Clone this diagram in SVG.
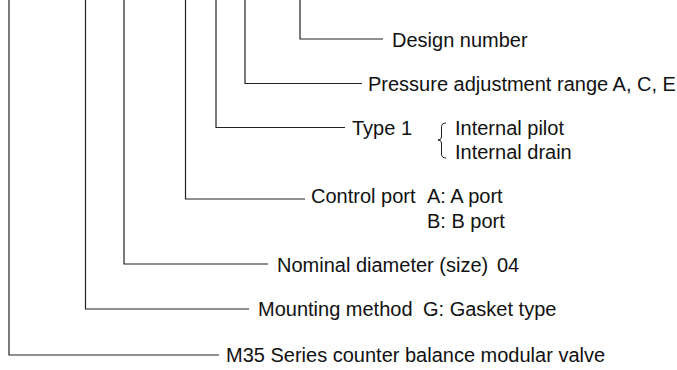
<svg xmlns="http://www.w3.org/2000/svg" width="677" height="370" viewBox="0 0 677 370">
<style>
.ln{fill:none;stroke:#222;stroke-width:1.2}
.br{fill:none;stroke:#222;stroke-width:1}
.t{font-family:"Liberation Sans",Arial,sans-serif;font-size:20px;fill:#111}
</style>
<rect width="677" height="370" fill="#fff"/>
<g id="connectors">
<polyline class="ln" points="300,0 300,39 383,39"/>
<polyline class="ln" points="245,0 245,83.5 362,83.5"/>
<polyline class="ln" points="216,0 216,127.5 345,127.5"/>
<polyline class="ln" points="185.5,0 185.5,199 305,199"/>
<polyline class="ln" points="124,0 124,264 268,264"/>
<polyline class="ln" points="85.5,0 85.5,309 249,309"/>
<polyline class="ln" points="9,0 9,355 219,355"/>
</g>
<g id="design">
<text class="t" x="392" y="47">Design number</text>
</g>
<g id="pressure">
<text class="t" x="368" y="90.5">Pressure adjustment range A, C, E</text>
</g>
<g id="type">
<text class="t" x="352" y="135">Type 1</text>
<path class="br" d="M446,123 Q441.5,123 441.5,127 L441.5,137 Q441.5,140 438,140 Q441.5,140 441.5,143 L441.5,154 Q441.5,158 446,158"/>
<text class="t" x="455" y="135">Internal pilot</text>
<text class="t" x="455" y="159">Internal drain</text>
</g>
<g id="control">
<text class="t" x="311" y="203">Control port</text>
<text class="t" x="427" y="203">A: A port</text>
<text class="t" x="427" y="228">B: B port</text>
</g>
<g id="nominal">
<text class="t" x="277" y="271.5">Nominal diameter (size)</text>
<text class="t" x="497" y="271.5">04</text>
</g>
<g id="mounting">
<text class="t" x="258" y="316">Mounting method</text>
<text class="t" x="423" y="316">G: Gasket type</text>
</g>
<g id="series">
<text class="t" x="226" y="361.5">M35 Series counter balance modular valve</text>
</g>
</svg>
